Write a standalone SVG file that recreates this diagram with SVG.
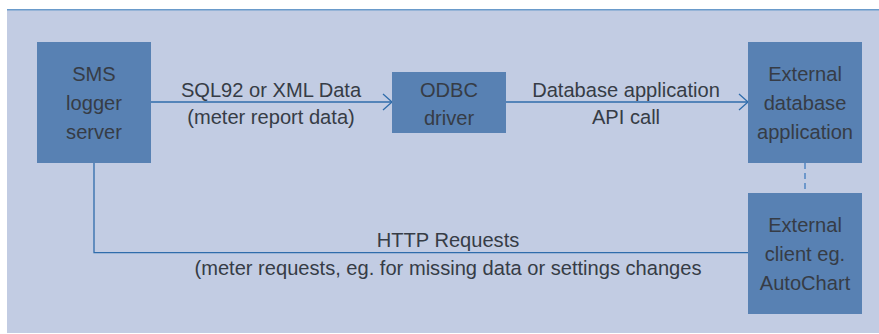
<svg xmlns="http://www.w3.org/2000/svg" width="879" height="334" viewBox="0 0 879 334">
<defs>
<style>
.box{fill:#5881b3;}
.t{font-family:"Liberation Sans",Arial,sans-serif;font-size:20.1px;fill:#363c46;text-anchor:middle;}
.ln{fill:none;stroke:#2f6cab;stroke-width:1.3;}
</style>
<marker id="arr" markerUnits="userSpaceOnUse" markerWidth="12" markerHeight="20" refX="10" refY="9" orient="auto">
<path d="M1,1 L10,9 L1,17" fill="none" stroke="#2f6cab" stroke-width="1.3"/>
</marker>
</defs>
<rect x="0" y="0" width="879" height="334" fill="#ffffff"/>
<rect x="7" y="10" width="872" height="323" fill="#c2cce3"/>
<line x1="7" y1="9.8" x2="879" y2="9.8" stroke="#6a9bcb" stroke-width="1.6"/>
<g id="connectors">
<line class="ln" x1="151" y1="102" x2="392" y2="102" marker-end="url(#arr)"/>
<line class="ln" x1="506" y1="102" x2="748" y2="102" marker-end="url(#arr)"/>
<polyline class="ln" points="94,163 94,252.7 748,252.7"/>
<line x1="805" y1="163" x2="805" y2="193" stroke="#3f7cbf" stroke-width="1.3" stroke-dasharray="6,4"/>
<text class="t" x="271" y="96.5">SQL92 or XML Data</text>
<text class="t" x="271" y="124">(meter report data)</text>
<text class="t" x="626" y="96.5">Database application</text>
<text class="t" x="626" y="124">API call</text>
<text class="t" x="448" y="247">HTTP Requests</text>
<text class="t" x="448" y="274.5">(meter requests, eg. for missing data or settings changes</text>
</g>
<g id="sms">
<rect class="box" x="37" y="42" width="114" height="121"/>
<text class="t" x="94" y="81">SMS</text>
<text class="t" x="94" y="110">logger</text>
<text class="t" x="94" y="139">server</text>
</g>
<g id="odbc">
<rect class="box" x="392" y="72" width="114" height="61"/>
<text class="t" x="449" y="96.5">ODBC</text>
<text class="t" x="449" y="125">driver</text>
</g>
<g id="extdb">
<rect class="box" x="748" y="42" width="114" height="121"/>
<text class="t" x="805" y="81">External</text>
<text class="t" x="805" y="110">database</text>
<text class="t" x="805" y="139">application</text>
</g>
<g id="extclient">
<rect class="box" x="748" y="193" width="114" height="121"/>
<text class="t" x="805" y="232">External</text>
<text class="t" x="805" y="261">client eg.</text>
<text class="t" x="805" y="290">AutoChart</text>
</g>
</svg>
